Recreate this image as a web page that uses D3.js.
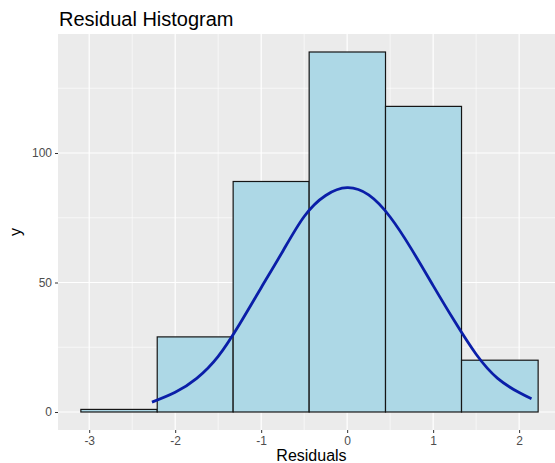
<!DOCTYPE html>
<html>
<head>
<meta charset="utf-8">
<script src="https://cdn.jsdelivr.net/npm/d3@7"></script>
<style>
  html, body { margin: 0; padding: 0; background: #fff; }
  svg { display: block; font-family: "Liberation Sans", Arial, Helvetica, sans-serif; }
</style>
</head>
<body>
<svg id="chart" width="555" height="463"></svg>
<script>
// Histogram bins (edges) and counts
const binEdges = [-3.097, -2.209, -1.326, -0.442, 0.446, 1.330, 2.221];
const binCounts = [1, 29, 89, 139, 118, 20];

// Fitted normal curve, sampled points
const curveX = [-2.27, -2.0, -1.75, -1.5, -1.25, -1.0, -0.75, -0.5, -0.25, 0.0, 0.25, 0.5, 0.75, 1.0, 1.25, 1.5, 1.75, 2.0, 2.144];
const curveY = [3.8, 7.6, 13.0, 21.5, 34.0, 48.0, 62.0, 75.5, 83.6, 86.6, 83.8, 75.3, 62.8, 48.8, 35.0, 22.3, 13.0, 7.5, 5.1];

// Axis ticks
const xTicks = [-3, -2, -1, 0, 1, 2];
const xMinor = [-2.5, -1.5, -0.5, 0.5, 1.5];
const yTicks = [0, 50, 100];
const yMinor = [25, 75, 125];

const svg = d3.select("#chart");
const panel = { left: 58, right: 561, top: 34, bottom: 430 };

// ggplot-style 5% expansion on both axes
const xLo = binEdges[0], xHi = binEdges[binEdges.length - 1];
const xPad = (xHi - xLo) * 0.05;
const x = d3.scaleLinear().domain([xLo - xPad, xHi + xPad]).range([panel.left, panel.right]);
const yMax = d3.max(binCounts);
const y = d3.scaleLinear().domain([-yMax * 0.05, yMax * 1.05]).range([panel.bottom, panel.top]);

// Panel background
svg.append("rect")
  .attr("x", panel.left).attr("y", panel.top)
  .attr("width", panel.right - panel.left).attr("height", panel.bottom - panel.top)
  .attr("fill", "#ebebeb");

// Grid lines
const grid = svg.append("g");
grid.selectAll(".xminor").data(xMinor).enter().append("line")
  .attr("x1", d => x(d)).attr("x2", d => x(d))
  .attr("y1", panel.top).attr("y2", panel.bottom)
  .attr("stroke", "#fff").attr("stroke-width", 0.6);
grid.selectAll(".yminor").data(yMinor).enter().append("line")
  .attr("y1", d => y(d)).attr("y2", d => y(d))
  .attr("x1", panel.left).attr("x2", panel.right)
  .attr("stroke", "#fff").attr("stroke-width", 0.6);
grid.selectAll(".xmajor").data(xTicks).enter().append("line")
  .attr("x1", d => x(d)).attr("x2", d => x(d))
  .attr("y1", panel.top).attr("y2", panel.bottom)
  .attr("stroke", "#fff").attr("stroke-width", 1.2);
grid.selectAll(".ymajor").data(yTicks).enter().append("line")
  .attr("y1", d => y(d)).attr("y2", d => y(d))
  .attr("x1", panel.left).attr("x2", panel.right)
  .attr("stroke", "#fff").attr("stroke-width", 1.2);

// Bars
const bins = binCounts.map((c, i) => ({ x0: binEdges[i], x1: binEdges[i + 1], count: c }));
svg.append("g").selectAll("rect").data(bins).enter().append("rect")
  .attr("x", d => x(d.x0))
  .attr("y", d => y(d.count))
  .attr("width", d => x(d.x1) - x(d.x0))
  .attr("height", d => y(0) - y(d.count))
  .attr("fill", "#add8e6")
  .attr("stroke", "#151515")
  .attr("stroke-width", 1.2);

// Normal curve
const curvePts = curveX.map((v, i) => [v, curveY[i]]);
svg.append("path")
  .datum(curvePts)
  .attr("d", d3.line().x(d => x(d[0])).y(d => y(d[1])).curve(d3.curveNatural))
  .attr("fill", "none")
  .attr("stroke", "#0a1ea8")
  .attr("stroke-width", 2.8)
  .attr("stroke-linecap", "butt");

// Axes
const xAxis = svg.append("g")
  .attr("transform", `translate(0,${panel.bottom})`)
  .call(d3.axisBottom(x).tickValues(xTicks).tickSize(3).tickPadding(3).tickFormat(d => String(d)));
const yAxis = svg.append("g")
  .attr("transform", `translate(${panel.left},0)`)
  .call(d3.axisLeft(y).tickValues(yTicks).tickSize(3).tickPadding(3).tickFormat(d => String(d)));
[xAxis, yAxis].forEach(a => {
  a.select(".domain").remove();
  a.selectAll(".tick line").attr("stroke", "#333").attr("stroke-width", 1);
  a.selectAll(".tick text").attr("fill", "#4d4d4d").style("font-size", "12px")
    .style("font-family", "'Liberation Sans', Arial, sans-serif");
});

// Titles
svg.append("text")
  .attr("x", 59).attr("y", 26)
  .attr("fill", "#000")
  .style("font-size", "20px")
  .text("Residual Histogram");

svg.append("text")
  .attr("x", 311.5).attr("y", 461)
  .attr("text-anchor", "middle")
  .attr("fill", "#000")
  .style("font-size", "16px")
  .text("Residuals");

svg.append("text")
  .attr("transform", `translate(21,${(panel.top + panel.bottom) / 2}) rotate(-90)`)
  .attr("text-anchor", "middle")
  .attr("fill", "#000")
  .style("font-size", "16px")
  .text("y");
</script>
</body>
</html>
